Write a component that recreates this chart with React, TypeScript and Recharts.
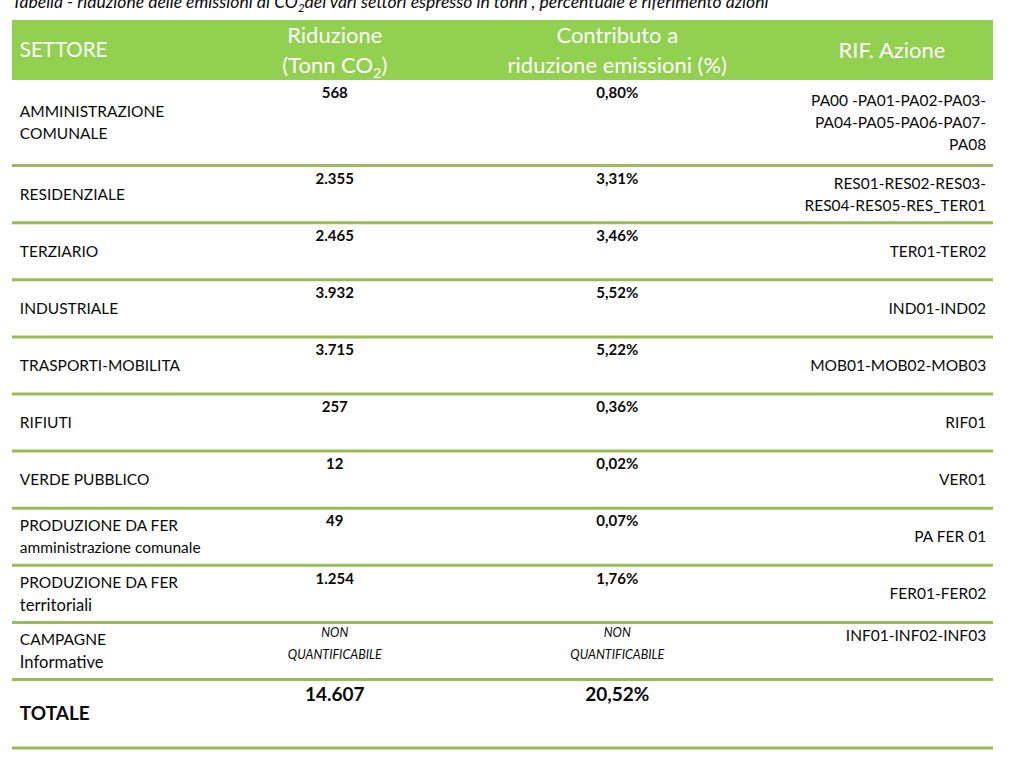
import React from 'react'
import { ScatterChart, Scatter, XAxis, YAxis, ReferenceArea, ReferenceLine } from 'recharts'

const TITLE = 'Tabella - riduzione delle emissioni di CO2dei vari settori espresso in tonn , percentuale e riferimento azioni'
const HEADERS = [['SETTORE'], ['Riduzione', '(Tonn CO2)'], ['Contributo a', 'riduzione emissioni (%)'], ['RIF. Azione']]

const SETTORI = [
  ['AMMINISTRAZIONE', 'COMUNALE'],
  ['RESIDENZIALE'],
  ['TERZIARIO'],
  ['INDUSTRIALE'],
  ['TRASPORTI-MOBILITA'],
  ['RIFIUTI'],
  ['VERDE PUBBLICO'],
  ['PRODUZIONE DA FER'],
  ['PRODUZIONE DA FER', 'territoriali'],
  ['CAMPAGNE', 'Informative'],
]
const SETTORI_NOTE = ['', '', '', '', '', '', '', 'amministrazione comunale', '', '']
const RIDUZIONE = [568, 2355, 2465, 3932, 3715, 257, 12, 49, 1254, null]
const CONTRIBUTO = [0.8, 3.31, 3.46, 5.52, 5.22, 0.36, 0.02, 0.07, 1.76, null]
const AZIONI = [
  ['PA00 -PA01-PA02-PA03-', 'PA04-PA05-PA06-PA07-', 'PA08'],
  ['RES01-RES02-RES03-', 'RES04-RES05-RES_TER01'],
  ['TER01-TER02'],
  ['IND01-IND02'],
  ['MOB01-MOB02-MOB03'],
  ['RIF01'],
  ['VER01'],
  ['PA FER 01'],
  ['FER01-FER02'],
  ['INF01-INF02-INF03'],
]
const NON_QUANT = ['NON', 'QUANTIFICABILE']
const TOTALE_LABEL = 'TOTALE'
const TOTALE_RIDUZIONE = 14607
const TOTALE_CONTRIBUTO = 20.52

// layout
const FONT = 'Lato, "Open Sans", sans-serif'
const INK = '#0a0a0a'
const HEADER_UNITS = 2.1
const TOTAL_UNITS = 2.4
const RIF_TOP_ALIGNED = [9]
const COL = { name: 0.8, riduzione: 32.9, contributo: 61.7, azioni: 99.3, azioniHead: 89.7 }

const fmtInt = (v: number) => String(v).replace(/\B(?=(\d{3})+(?!\d))/g, '.')
const fmtPct = (v: number) => v.toFixed(2).replace('.', ',') + '%'

let acc = HEADER_UNITS
const rows = SETTORI.map((s, i) => {
  const n = Math.max(2, s.length + (SETTORI_NOTE[i] ? 1 : 0), AZIONI[i].length)
  const r = { i, top: acc, mid: acc + n / 2, bottom: acc + n }
  acc += n
  return r
})
const total = { top: acc, mid: acc + TOTAL_UNITS / 2, bottom: acc + TOTAL_UNITS }
const DOMAIN_MAX = total.bottom

const headerData = HEADERS.map((lines, j) => ({
  x: [COL.name, COL.riduzione, COL.contributo, COL.azioniHead][j],
  y: HEADER_UNITS / 2,
  lines,
  anchor: j === 0 ? 'start' : 'middle',
}))
const nameData = [
  ...rows.map(r => ({ x: COL.name, y: r.mid, lines: SETTORI[r.i], note: SETTORI_NOTE[r.i], total: false })),
  { x: COL.name, y: total.mid, lines: [TOTALE_LABEL], note: '', total: true },
]
const riduzioneData = [
  ...rows.map(r => ({ x: COL.riduzione, y: r.top, v: RIDUZIONE[r.i] == null ? null : fmtInt(RIDUZIONE[r.i] as number), total: false })),
  { x: COL.riduzione, y: total.top, v: fmtInt(TOTALE_RIDUZIONE), total: true },
]
const contributoData = [
  ...rows.map(r => ({ x: COL.contributo, y: r.top, v: CONTRIBUTO[r.i] == null ? null : fmtPct(CONTRIBUTO[r.i] as number), total: false })),
  { x: COL.contributo, y: total.top, v: fmtPct(TOTALE_CONTRIBUTO), total: true },
]
const azioniData = rows.map(r => {
  const top = RIF_TOP_ALIGNED.includes(r.i)
  return { x: COL.azioni, y: top ? r.top : r.mid, lines: AZIONI[r.i], top }
})

function withSub(text: string, size: number) {
  const k = text.indexOf('CO2')
  if (k < 0) return text
  return [
    <tspan key="a">{text.slice(0, k + 2)}</tspan>,
    <tspan key="b" fontSize={size * 0.65} dy={size * 0.22}>2</tspan>,
    <tspan key="c" dy={-size * 0.22}>{text.slice(k + 3)}</tspan>,
  ]
}

// lowercase-heavy lines run a bit wider in the original font
const lineSize = (t: string) => (/[a-z]/.test(t) ? 16.6 : 15.5)

const HeaderCell = (p: any) => {
  const { cx, cy, payload } = p
  const n = payload.lines.length
  return (
    <g>
      {payload.lines.map((t: string, k: number) => (
        <text key={k} x={cx} y={cy + (k - (n - 1) / 2) * 30} dy="0.35em" textAnchor={payload.anchor}
          fontFamily={FONT} fontSize={/[a-z]/.test(t) ? 22 : 20.5} fill="#fff">{withSub(t, 22)}</text>
      ))}
    </g>
  )
}

const NameCell = (p: any) => {
  const { cx, cy, payload } = p
  if (payload.total) {
    return <text x={cx} y={cy} dy="0.35em" fontFamily={FONT} fontSize={19} fontWeight={700} fill={INK}>{payload.lines[0]}</text>
  }
  const items = payload.lines.map((t: string) => ({ t, size: lineSize(t) }))
  if (payload.note) items.push({ t: payload.note, size: 15.5 })
  const n = items.length
  return (
    <g>
      {items.map((it: any, k: number) => (
        <text key={k} x={cx} y={cy + (k - (n - 1) / 2) * 22} dy="0.35em" fontFamily={FONT} fontSize={it.size} fill={INK}>{it.t}</text>
      ))}
    </g>
  )
}

const ValueCell = (p: any) => {
  const { cx, cy, payload } = p
  if (payload.v == null) {
    return (
      <g>
        {NON_QUANT.map((t, k) => (
          <text key={k} x={cx} y={cy + 10 + k * 22} dy="0.35em" textAnchor="middle" fontFamily={FONT}
            fontSize={12.5} fontStyle="italic" fill={INK}>{t}</text>
        ))}
      </g>
    )
  }
  const size = payload.total ? 19 : 15
  return (
    <text x={cx} y={cy + (payload.total ? 15 : 13)} dy="0.35em" textAnchor="middle" fontFamily={FONT}
      fontSize={size} fontWeight={700} fill={INK}>{payload.v}</text>
  )
}

const AzioniCell = (p: any) => {
  const { cx, cy, payload } = p
  const n = payload.lines.length
  const y0 = payload.top ? cy + 13 : cy - (n - 1) * 11
  return (
    <g>
      {payload.lines.map((t: string, k: number) => (
        <text key={k} x={cx} y={y0 + k * 22} dy="0.35em" textAnchor="end" fontFamily={FONT} fontSize={15.5} fill={INK}>{t}</text>
      ))}
    </g>
  )
}

export default function App() {
  return (
    <div style={{ position: 'absolute', left: 0, top: 0, width: 1023, height: 778, background: '#fff', overflow: 'hidden' }}>
      <svg width={1023} height={20} style={{ position: 'absolute', left: 0, top: 0 }}>
        <text x={12} y={8} fontFamily={FONT} fontStyle="italic" fontSize={17.5} fill={INK}>{withSub(TITLE, 17.5)}</text>
      </svg>
      <ScatterChart width={1023} height={778} margin={{ top: 20, right: 30, bottom: 30, left: 12 }}>
        <XAxis type="number" dataKey="x" domain={[0, 100]} allowDataOverflow hide />
        <YAxis type="number" dataKey="y" domain={[0, DOMAIN_MAX]} allowDataOverflow reversed hide />
        <ReferenceArea x1={0} x2={100} y1={0} y2={HEADER_UNITS} fill="#92D050" fillOpacity={1} stroke="none" />
        {[...rows.map(r => r.bottom), total.bottom].map((b, k) => (
          <ReferenceLine key={k} y={b} stroke="#9BBB59" strokeWidth={3} />
        ))}
        <Scatter data={headerData} shape={HeaderCell} isAnimationActive={false} />
        <Scatter data={nameData} shape={NameCell} isAnimationActive={false} />
        <Scatter data={riduzioneData} shape={ValueCell} isAnimationActive={false} />
        <Scatter data={contributoData} shape={ValueCell} isAnimationActive={false} />
        <Scatter data={azioniData} shape={AzioniCell} isAnimationActive={false} />
      </ScatterChart>
    </div>
  )
}
